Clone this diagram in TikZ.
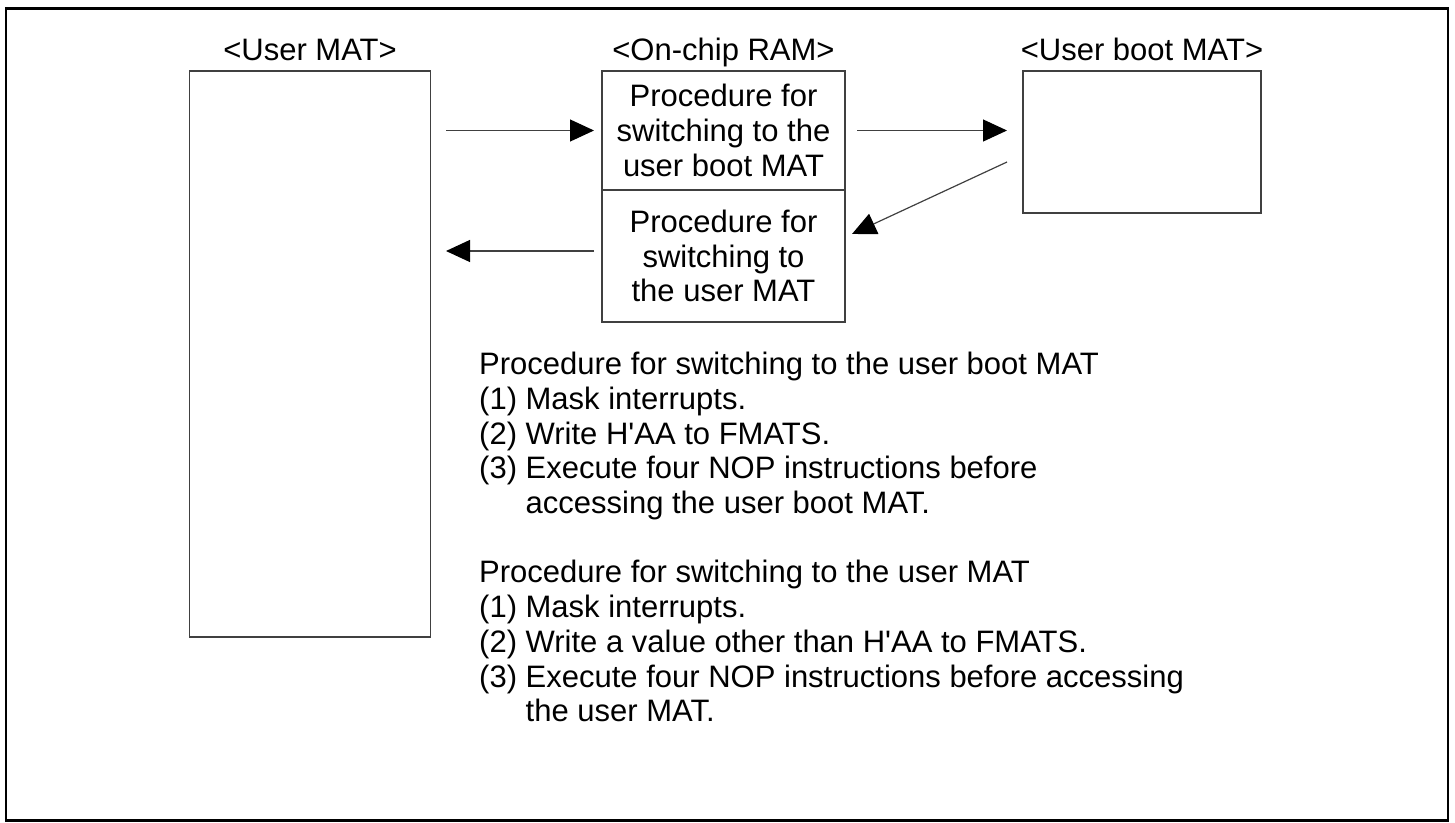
\documentclass[tikz,border=0pt]{standalone}
\usepackage{fontspec}
\setmainfont{Liberation Sans}
\usetikzlibrary{arrows.meta}
\begin{document}
\begin{tikzpicture}[x=1pt,y=-1pt,
  every node/.style={font=\fontsize{31}{34.75}\selectfont, text=black},
  box/.style={draw=black!75, line width=1.2pt, rectangle, inner sep=0pt, outer sep=0pt, anchor=north west},
  conn/.style={draw=black!75, line width=1.2pt, -{Triangle[length=24pt,width=22pt,black]}},
  lbl/.style={anchor=base, inner sep=0pt},
  steps/.style={anchor=north west, inner sep=0pt, align=left}
]
\useasboundingbox (0,0) rectangle (1455,822);
\node[draw=black, line width=2.5pt, rectangle, inner sep=0pt, outer sep=0pt, anchor=north west,
      minimum width=1442pt, minimum height=812pt] (frame) at (6,8.5) {};

% boxes
\node[box, minimum width=241pt, minimum height=566pt] (usermat) at (189.5,71) {};
\node[box, minimum width=243pt, minimum height=119pt, align=center] (upper) at (602,71)
  {Procedure for\\switching to the\\user boot MAT};
\node[box, minimum width=243pt, minimum height=132pt, align=center] (lower) at (602,190)
  {Procedure for\\switching to\\the user MAT};
\node[box, minimum width=238pt, minimum height=142pt] (boot) at (1023,71) {};

% labels
\node[lbl] (lblusermat) at (310,60) {<User MAT>};
\node[lbl] (lblram) at (723.5,60) {<On-chip RAM>};
\node[lbl] (lblboot) at (1142,60) {<User boot MAT>};

% procedure texts
\node[steps] (steps1) at (479,352) {Procedure for switching to the user boot MAT\\
(1) Mask interrupts.\\
(2) Write H\textquotesingle AA to FMATS.\\
(3) Execute four NOP instructions before\\
\hphantom{(3) }accessing the user boot MAT.};
\node[steps] (steps2) at (479,560.3) {Procedure for switching to the user MAT\\
(1) Mask interrupts.\\
(2) Write a value other than H\textquotesingle AA to FMATS.\\
(3) Execute four NOP instructions before accessing\\
\hphantom{(3) }the user MAT.};

% connectors
\draw[conn, shorten <=15.5pt, shorten >=8pt] (usermat.east |- upper.west) -- (upper.west);
\draw[conn, shorten <=12pt, shorten >=16pt] (upper.east) -- (boot.west |- upper.east);
\coordinate (dstart) at (1007,162);
\coordinate (dend) at (852,234);
\draw[conn] (dstart) -- (dend);
\draw[conn, shorten <=8pt, shorten >=15.5pt] ([yshift=5pt]lower.west) -- ([yshift=5pt]usermat.east |- lower.west);
\end{tikzpicture}
\end{document}
